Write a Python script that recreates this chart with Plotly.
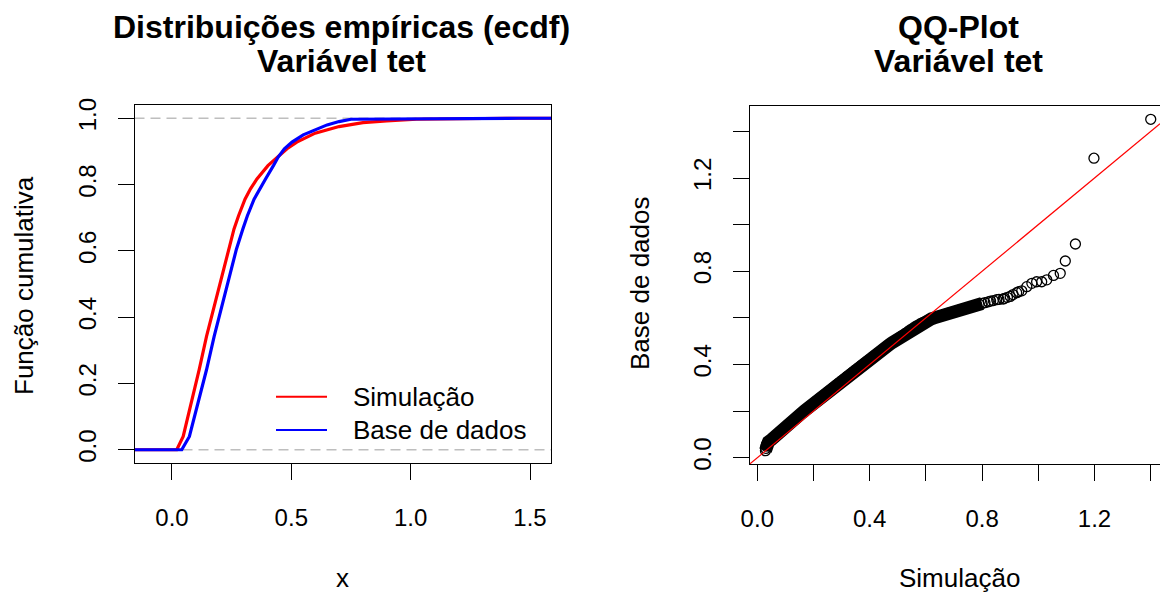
import plotly.graph_objects as go

W, H = 1160, 594
FONT = "Liberation Sans, Arial, sans-serif"

# ---------------- data ----------------
# Empirical CDF – Simulação
sim_x = [0.020, 0.047, 0.082, 0.114, 0.145, 0.180, 0.215, 0.237, 0.260, 0.279,
         0.306, 0.329, 0.356, 0.402, 0.482, 0.523, 0.600, 0.700, 0.800, 0.900,
         1.025, 1.400]
sim_F = [0.000, 0.040, 0.141, 0.242, 0.343, 0.444, 0.545, 0.605, 0.666, 0.706,
         0.756, 0.787, 0.817, 0.857, 0.908, 0.928, 0.955, 0.975, 0.987, 0.992,
         0.997, 1.000]
# Empirical CDF – Base de dados
base_x = [0.041, 0.073, 0.110, 0.145, 0.177, 0.212, 0.246, 0.270, 0.297, 0.316,
          0.344, 0.367, 0.392, 0.425, 0.445, 0.471, 0.503, 0.550, 0.600, 0.650,
          0.700, 0.750, 1.452]
base_F = [0.000, 0.040, 0.141, 0.242, 0.343, 0.444, 0.545, 0.605, 0.666, 0.706,
          0.756, 0.787, 0.817, 0.857, 0.883, 0.908, 0.928, 0.950, 0.966, 0.980,
          0.990, 0.997, 1.000]

# QQ-plot points (Simulação quantiles vs Base de dados quantiles)
qq_sim = [0.029, 0.030, 0.031, 0.033, 0.036,
          0.04, 0.05, 0.06, 0.07, 0.08, 0.09, 0.10, 0.11, 0.12, 0.13,
          0.14, 0.15, 0.16, 0.17, 0.18, 0.19, 0.20, 0.21, 0.22, 0.23,
          0.24, 0.25, 0.26, 0.27, 0.28, 0.29, 0.30, 0.31, 0.32, 0.33,
          0.34, 0.35, 0.36, 0.37, 0.38, 0.39, 0.40, 0.41, 0.42, 0.43,
          0.44, 0.45, 0.46, 0.47, 0.48, 0.49, 0.50, 0.51, 0.52, 0.53,
          0.54, 0.55, 0.56, 0.57, 0.58, 0.59, 0.60, 0.61, 0.62, 0.63,
          0.64, 0.65, 0.66, 0.67, 0.68, 0.69, 0.70, 0.71, 0.72, 0.73,
          0.74, 0.75, 0.76, 0.77, 0.78, 0.79, 0.80,
          0.81, 0.822, 0.83, 0.84, 0.852, 0.86, 0.875, 0.88, 0.89, 0.900,
          0.91, 0.923, 0.93, 0.941, 0.959, 0.977, 0.994, 1.012, 1.030,
          1.054, 1.078, 1.096, 1.132, 1.198, 1.400]
qq_base = [0.030, 0.040, 0.050, 0.058, 0.064,
           0.068, 0.077, 0.086, 0.097, 0.108, 0.119, 0.130, 0.141, 0.151, 0.162,
           0.172, 0.183, 0.193, 0.203, 0.213, 0.223, 0.233, 0.243, 0.253, 0.262,
           0.272, 0.282, 0.291, 0.301, 0.311, 0.320, 0.330, 0.339, 0.349, 0.358,
           0.368, 0.377, 0.386, 0.396, 0.405, 0.414, 0.422, 0.432, 0.441, 0.450,
           0.459, 0.468, 0.477, 0.485, 0.494, 0.502, 0.510, 0.519, 0.527, 0.536,
           0.545, 0.553, 0.561, 0.568, 0.575, 0.581, 0.586, 0.591, 0.596, 0.600,
           0.604, 0.608, 0.612, 0.616, 0.620, 0.623, 0.627, 0.630, 0.634, 0.637,
           0.641, 0.644, 0.648, 0.651, 0.655, 0.658, 0.662,
           0.665, 0.669, 0.672, 0.674, 0.678, 0.679, 0.681, 0.684, 0.688, 0.692,
           0.700, 0.708, 0.712, 0.716, 0.734, 0.748, 0.755, 0.755, 0.763,
           0.782, 0.791, 0.844, 0.917, 1.285, 1.452]

# reference line of the QQ plot: intercept, slope
ABLINE = (0.0, 1.0)

# axis settings
X1_RANGE = [-0.157, 1.588]
Y1_RANGE = [-0.04, 1.04]
X2_RANGE = [-0.026, 1.433]
Y2_RANGE = [-0.027, 1.509]
x1_ticks = [0.0, 0.5, 1.0, 1.5]
x1_labels = ["0.0", "0.5", "1.0", "1.5"]
y1_ticks = [0.0, 0.2, 0.4, 0.6, 0.8, 1.0]
y1_labels = ["0.0", "0.2", "0.4", "0.6", "0.8", "1.0"]
qq_ticks = [0.0, 0.2, 0.4, 0.6, 0.8, 1.0, 1.2, 1.4]
qq_labels = ["0.0", "", "0.4", "", "0.8", "", "1.2", ""]
DENSE_MAX = 0.80

# ---------------- geometry helpers ----------------
def px(x):
    return x / W


def py(y):
    return 1 - y / H


L1, R1, T1, B1 = 134.5, 551, 105, 463
L2, R2, T2, B2 = 750, 1160, 106, 464

fig = go.Figure()

# ECDF curves, extended to the plot edges as R's plot.ecdf does
fig.add_trace(go.Scatter(
    x=[X1_RANGE[0]] + sim_x + [X1_RANGE[1]], y=[0.0] + sim_F + [1.0],
    mode="lines", line=dict(color="#FF0000", width=3.2),
    name="Simulação", xaxis="x", yaxis="y", showlegend=False))
fig.add_trace(go.Scatter(
    x=[X1_RANGE[0]] + base_x + [X1_RANGE[1]], y=[0.0] + base_F + [1.0],
    mode="lines", line=dict(color="#0000FF", width=3.2),
    name="Base de dados", xaxis="x", yaxis="y", showlegend=False))

# QQ plot: dense body drawn as a band under the circles
dense_x = [a for a in qq_sim if a <= DENSE_MAX]
dense_y = [b for a, b in zip(qq_sim, qq_base) if a <= DENSE_MAX]
fig.add_trace(go.Scatter(
    x=dense_x, y=dense_y, mode="lines",
    line=dict(color="black", width=13), xaxis="x2", yaxis="y2",
    showlegend=False, hoverinfo="skip"))
fig.add_trace(go.Scatter(
    x=qq_sim, y=qq_base, mode="markers",
    marker=dict(symbol="circle-open", size=10, color="black",
                line=dict(color="black", width=1.3)),
    xaxis="x2", yaxis="y2", showlegend=False, name="QQ"))

axis_common = dict(
    showgrid=False, zeroline=False, showline=True, linecolor="black",
    linewidth=1, ticks="outside", ticklen=16, tickwidth=1, tickcolor="black",
    tickfont=dict(family=FONT, size=24, color="black"))

fig.update_layout(
    width=W, height=H, margin=dict(l=0, r=0, t=0, b=0, autoexpand=False),
    paper_bgcolor="white", plot_bgcolor="white", showlegend=False,
    font=dict(family=FONT, color="black"),
    xaxis=dict(domain=[px(L1), px(R1)], range=X1_RANGE, tickvals=x1_ticks,
               ticktext=x1_labels, mirror=True, anchor="y",
               ticklabelstandoff=17, **axis_common),
    yaxis=dict(domain=[py(B1), py(T1)], range=Y1_RANGE, tickvals=y1_ticks,
               ticktext=y1_labels, mirror=True, anchor="x", tickangle=-90,
               ticklabelstandoff=12, **axis_common),
    xaxis2=dict(domain=[px(L2), px(R2)], range=X2_RANGE, tickvals=qq_ticks,
                ticktext=qq_labels, mirror=True, anchor="y2",
                ticklabelstandoff=17, **axis_common),
    yaxis2=dict(domain=[py(B2), py(T2)], range=Y2_RANGE, tickvals=qq_ticks,
                ticktext=qq_labels, mirror=False, anchor="x2", tickangle=-90,
                ticklabelstandoff=12, **axis_common),
)

# dashed horizontal guides at 0 and 1 in the ECDF panel
for lvl in (0.0, 1.0):
    fig.add_shape(type="line", xref="x domain", yref="y", x0=0, x1=1,
                  y0=lvl, y1=lvl, layer="below",
                  line=dict(color="#BEBEBE", width=1.3, dash="10px,6px"))

# y = a + b x reference line in the QQ panel
a, b = ABLINE
fig.add_shape(type="line", xref="x2", yref="y2",
              x0=X2_RANGE[0], y0=a + b * X2_RANGE[0],
              x1=X2_RANGE[1], y1=a + b * X2_RANGE[1],
              line=dict(color="#FF0000", width=1.2))

# legend (drawn like R's legend, bty = "n")
def dxl(p):
    return (p - L1) / (R1 - L1)


def dyl(p):
    return (B1 - p) / (B1 - T1)


for col, ypix, txt in (("#FF0000", 396.7, "Simulação"),
                       ("#0000FF", 430.0, "Base de dados")):
    fig.add_shape(type="line", xref="x domain", yref="y domain",
                  x0=dxl(276), x1=dxl(327), y0=dyl(ypix), y1=dyl(ypix),
                  line=dict(color=col, width=2))
    fig.add_annotation(xref="x domain", yref="y domain", x=dxl(351),
                       y=dyl(ypix), text=txt, showarrow=False,
                       xanchor="left", yanchor="middle",
                       font=dict(family=FONT, size=26, color="black"))

# titles
def title(xc, yc, txt):
    fig.add_annotation(xref="paper", yref="paper", x=px(xc), y=py(yc),
                       text="<b>" + txt + "</b>", showarrow=False,
                       xanchor="center", yanchor="middle",
                       font=dict(family=FONT, size=32, color="black"))


title(341, 27, "Distribuições empíricas (ecdf)")
title(341, 61, "Variável tet")
title(958, 27, "QQ-Plot")
title(958, 61, "Variável tet")

# axis titles
def label(xc, yc, txt, angle=0):
    fig.add_annotation(xref="paper", yref="paper", x=px(xc), y=py(yc),
                       text=txt, showarrow=False, textangle=angle,
                       xanchor="center", yanchor="middle",
                       font=dict(family=FONT, size=26, color="black"))


label(342, 578, "x")
label(24, 286, "Função cumulativa", -90)
label(959, 578, "Simulação")
label(640, 284, "Base de dados", -90)

fig.write_html(
    "out.html",
    config={"displayModeBar": False},
    post_script="document.body.style.margin='0px';"
                "document.body.style.overflow='hidden';")
